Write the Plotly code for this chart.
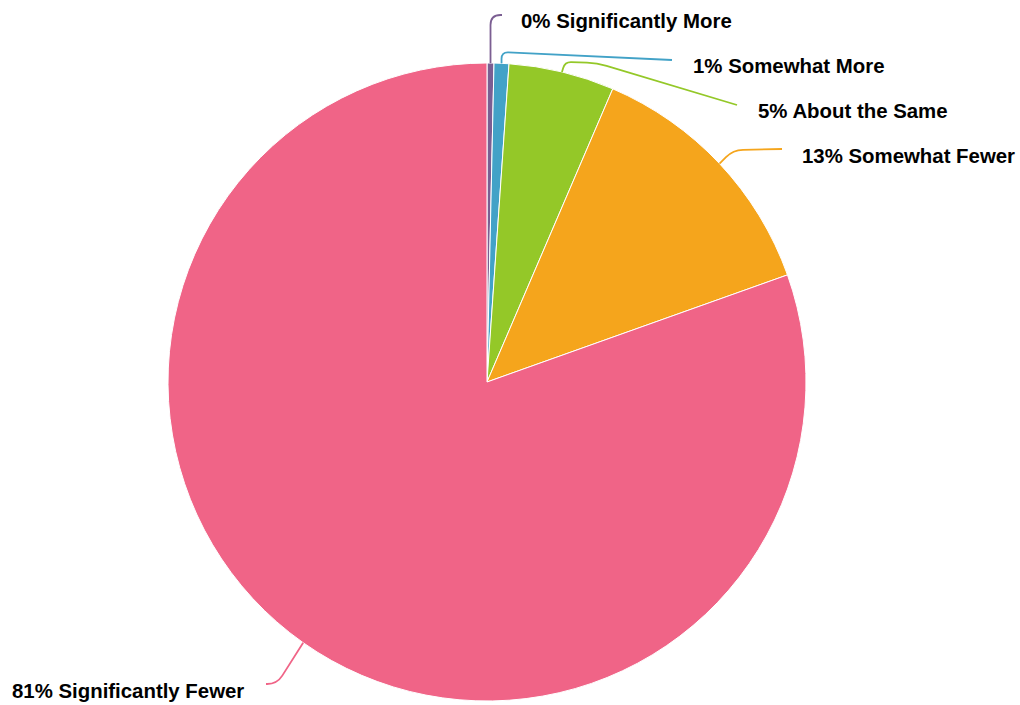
import math
import plotly.graph_objects as go

# ---- data ----
categories = ["Significantly More", "Somewhat More", "About the Same", "Somewhat Fewer", "Significantly Fewer"]
values = [0.35, 0.75, 5.35, 13.1, 80.45]
pct_labels = ["0%", "1%", "5%", "13%", "81%"]
colors = ["#7b5e92", "#42a2c7", "#94c828", "#f5a51c", "#f06487"]

# ---- layout (pixels) ----
W, H = 1020, 705
CX, CY, R = 487, 382, 319
# label left-x / centre-y
label_pos = [(519, 20), (691, 65), (756, 110), (800, 155), (10, 690)]
# connector bend points after the slice-edge start point (last point = end near label)
connector_pts = [
    [("sx", 15), (502, 15)],
    [("sx", 52), (672, 60)],
    [(565, 62), (597, 63), (737, 105)],
    [(733, 150), (782, 149)],
    [(277, 684), (266, 684)],
]

def px(x):
    return x / W

def py(y):
    return 1 - y / H

fig = go.Figure()
fig.add_trace(go.Pie(
    labels=categories, values=values, sort=False, direction="clockwise", rotation=0,
    marker=dict(colors=colors, line=dict(color="#ffffff", width=1)),
    textinfo="none", showlegend=False,
    domain=dict(x=[(CX - R) / W, (CX + R) / W], y=[(H - CY - R) / H, (H - CY + R) / H]),
))

total = sum(values)
cum = 0.0
shapes = []
annotations = []
for i, v in enumerate(values):
    mid = (cum + v / 2) / total * 2 * math.pi
    cum += v
    sx = CX + R * math.sin(mid)
    sy = CY - R * math.cos(mid)
    pts = [(sx, sy)]
    for (a, b) in connector_pts[i]:
        pts.append((sx if a == "sx" else a, b))
    # rounded corners
    path = "M %.5f,%.5f" % (px(pts[0][0]), py(pts[0][1]))
    for k in range(1, len(pts) - 1):
        p, c, n = pts[k - 1], pts[k], pts[k + 1]
        d1 = math.hypot(p[0] - c[0], p[1] - c[1])
        d2 = math.hypot(n[0] - c[0], n[1] - c[1])
        r = min(10, 0.6 * d1, 0.9 * d2)
        p1 = (c[0] + r * (p[0] - c[0]) / d1, c[1] + r * (p[1] - c[1]) / d1)
        p2 = (c[0] + r * (n[0] - c[0]) / d2, c[1] + r * (n[1] - c[1]) / d2)
        path += " L %.5f,%.5f Q %.5f,%.5f %.5f,%.5f" % (px(p1[0]), py(p1[1]), px(c[0]), py(c[1]), px(p2[0]), py(p2[1]))
    path += " L %.5f,%.5f" % (px(pts[-1][0]), py(pts[-1][1]))
    shapes.append(dict(type="path", xref="paper", yref="paper", path=path,
                       line=dict(color=colors[i], width=1.8)))
    lx, ly = label_pos[i]
    annotations.append(dict(
        x=px(lx), y=py(ly + 1), xref="paper", yref="paper", xanchor="left", yanchor="middle",
        text="<b>%s %s</b>" % (pct_labels[i], categories[i]), showarrow=False,
        font=dict(family="Liberation Sans, Arial, sans-serif", size=20.4, color="#000000"),
    ))

fig.update_layout(
    width=W, height=H, margin=dict(l=0, r=0, t=0, b=0),
    paper_bgcolor="#ffffff", plot_bgcolor="#ffffff",
    shapes=shapes, annotations=annotations,
)
fig.write_html("out.html", config={"displayModeBar": False},
               post_script="document.body.style.margin='0px';document.body.style.overflow='hidden';")
